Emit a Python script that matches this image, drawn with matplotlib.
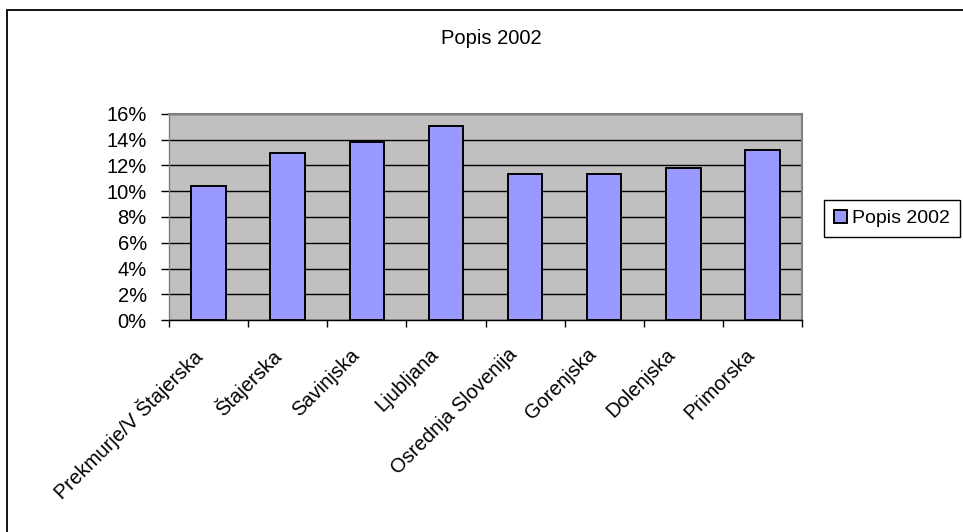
import matplotlib
matplotlib.use('Agg')
import matplotlib.pyplot as plt
from matplotlib.patches import Rectangle
from matplotlib.ticker import PercentFormatter, FixedLocator
import numpy as np

regije = ['Prekmurje/V Štajerska', 'Štajerska', 'Savinjska', 'Ljubljana',
          'Osrednja Slovenija', 'Gorenjska', 'Dolenjska', 'Primorska']
popis_2002 = [0.104, 0.130, 0.138, 0.151, 0.1135, 0.1135, 0.118, 0.132]
naslov = 'Popis 2002'
y_ticks = [0.0, 0.02, 0.04, 0.06, 0.08, 0.10, 0.12, 0.14, 0.16]

plt.rcParams['font.family'] = ['Liberation Sans', 'DejaVu Sans']
plt.rcParams['font.size'] = 14.5


def narisi():
    fig = plt.figure(figsize=(9.63, 5.32), dpi=100)
    ax = fig.add_axes([169 / 963, 1 - 320 / 532, (802 - 169) / 963, (320 - 114) / 532])

    # okvir grafa
    fig.patches.append(Rectangle((7 / 963, -0.2), 1.5, 0.2 + 1 - 10 / 532,
                                 transform=fig.transFigure, fill=False,
                                 edgecolor='black', linewidth=1.3))

    x = np.arange(len(regije))
    ax.set_facecolor('#c0c0c0')
    ax.bar(x, popis_2002, width=0.435, color='#9999ff', edgecolor='black',
           linewidth=1.4, label=naslov, zorder=3)

    ax.set_xlim(-0.5, len(regije) - 0.5)
    ax.set_ylim(0, 0.16)
    ax.set_yticks(y_ticks)
    ax.yaxis.set_major_formatter(PercentFormatter(1.0, decimals=0))
    ax.yaxis.grid(True, color='black', linewidth=1.0, zorder=1)
    ax.set_axisbelow(True)

    # napisi kategorij so malo zamaknjeni levo (kot v excelu)
    ax.set_xticks(x - 0.22)
    ax.set_xticklabels(regije, rotation=45, ha='right', va='top',
                       rotation_mode='anchor')
    ax.xaxis.set_minor_locator(FixedLocator(np.arange(len(regije) + 1) - 0.5))
    ax.tick_params(axis='x', which='major', length=0, pad=18)
    ax.tick_params(axis='x', which='minor', length=5, width=1, direction='out')
    ax.tick_params(axis='y', length=6, width=1, direction='out', pad=10)

    for s in ['top', 'right']:
        ax.spines[s].set_color('#808080')
        ax.spines[s].set_linewidth(1.5)
    ax.spines['left'].set_color('#808080')
    ax.spines['left'].set_linewidth(1.0)
    ax.spines['bottom'].set_color('black')
    ax.spines['bottom'].set_linewidth(1.0)

    fig.text(491 / 963, 1 - 38 / 532, naslov, ha='center', va='center')

    leg = fig.legend(loc='center left', bbox_to_anchor=(824 / 963, 1 - 218.5 / 532),
                     fancybox=False, shadow=False, framealpha=1, fontsize=14,
                     edgecolor='black', handlelength=0.7, handleheight=0.7,
                     handletextpad=0.25, borderpad=0.5, borderaxespad=0)
    leg.get_frame().set_linewidth(1.0)

    fig.savefig('out.png', dpi=100)
    plt.close(fig)


if __name__ == '__main__':
    narisi()
